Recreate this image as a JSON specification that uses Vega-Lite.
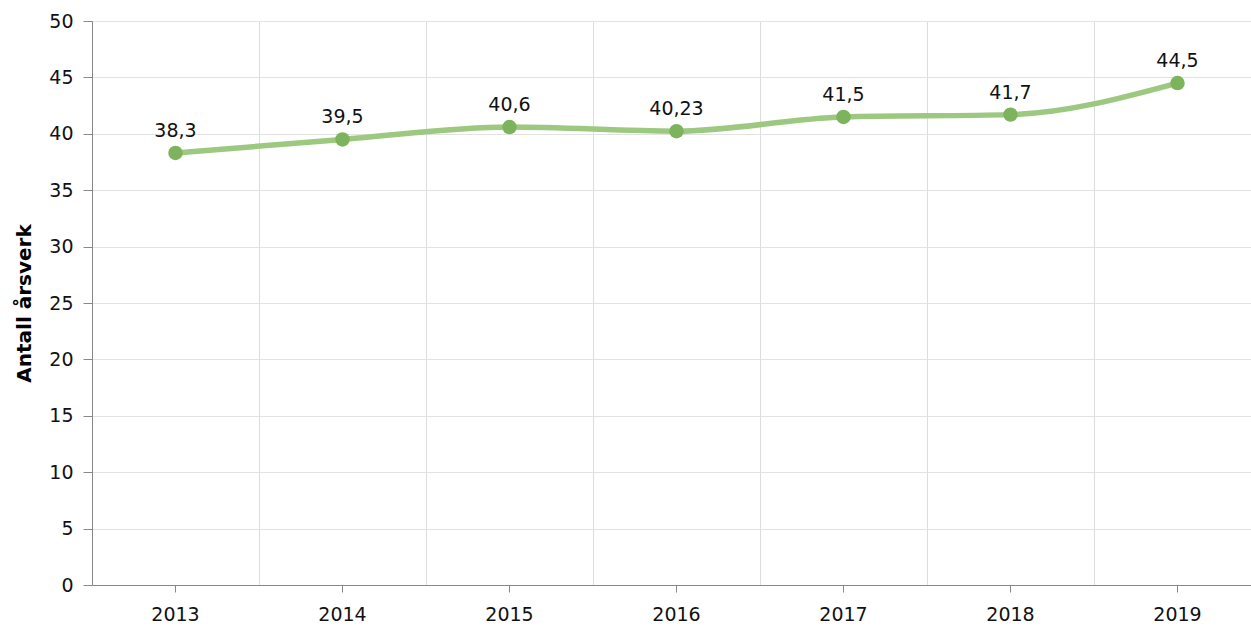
{
  "$schema": "https://vega.github.io/schema/vega-lite/v6.json",
  "width": 1169,
  "height": 564,
  "autosize": {"type": "none"},
  "padding": {"left": 92, "top": 21, "right": 0, "bottom": 42},
  "background": "white",
  "config": {"view": {"stroke": null}, "font": "DejaVu Sans"},
  "data": {
    "values": [
      {"year": "2013", "value": 38.3, "label": "38,3"},
      {"year": "2014", "value": 39.5, "label": "39,5"},
      {"year": "2015", "value": 40.6, "label": "40,6"},
      {"year": "2016", "value": 40.23, "label": "40,23"},
      {"year": "2017", "value": 41.5, "label": "41,5"},
      {"year": "2018", "value": 41.7, "label": "41,7"},
      {"year": "2019", "value": 44.5, "label": "44,5"}
    ]
  },
  "layer": [
    {
      "mark": {"type": "line", "interpolate": "monotone", "color": "#9cc97f", "strokeWidth": 5.5, "strokeCap": "round"},
      "encoding": {
        "x": {
          "field": "year", "type": "ordinal",
          "scale": {"type": "band", "paddingInner": 0, "paddingOuter": 0},
          "axis": {"orient": "bottom", "title": null, "grid": true, "tickBand": "extent", "gridColor": "#dddddd", "gridWidth": 1, "labels": false, "ticks": false, "domain": false}
        },
        "y": {
          "field": "value", "type": "quantitative",
          "scale": {"domain": [0, 50], "nice": false, "zero": true},
          "axis": {
            "title": "Antall årsverk", "titleFontSize": 20, "titleFontWeight": "bold", "titleColor": "#000000", "titlePadding": 14,
            "values": [0, 5, 10, 15, 20, 25, 30, 35, 40, 45, 50],
            "labelFontSize": 19, "labelColor": "#111111", "labelPadding": 10,
            "tickSize": 9, "tickColor": "#888888", "domainColor": "#888888",
            "gridColor": "#e2e2e2", "grid": true
          }
        }
      }
    },
    {
      "mark": {"type": "point", "filled": true, "opacity": 1, "color": "#7db35c", "size": 210},
      "encoding": {
        "x": {
          "field": "year", "type": "ordinal",
          "axis": {"orient": "bottom", "title": null, "grid": false, "labelAngle": 0, "labelFontSize": 19, "labelColor": "#111111", "labelPadding": 13, "tickSize": 7, "tickColor": "#888888", "domainColor": "#888888"}
        },
        "y": {"field": "value", "type": "quantitative"}
      }
    },
    {
      "mark": {"type": "text", "fontSize": 19, "color": "#111111", "dy": -16, "baseline": "alphabetic"},
      "encoding": {
        "x": {"field": "year", "type": "ordinal", "axis": null},
        "y": {"field": "value", "type": "quantitative"},
        "text": {"field": "label"}
      }
    }
  ],
  "resolve": {"axis": {"x": "independent"}}
}
